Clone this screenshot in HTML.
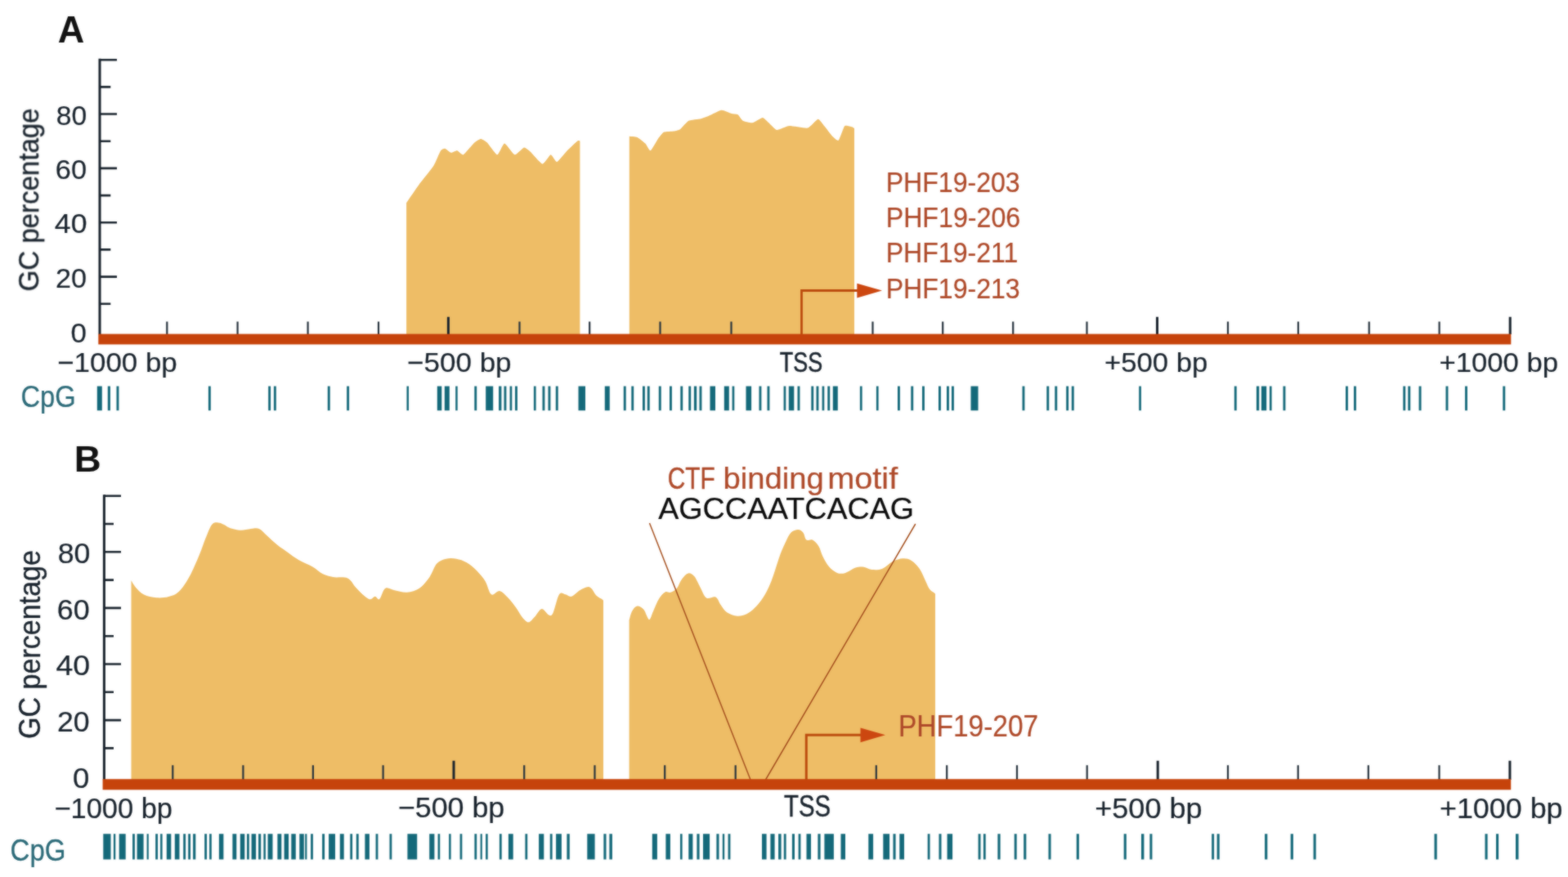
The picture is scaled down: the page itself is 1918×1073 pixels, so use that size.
<!DOCTYPE html>
<html lang="en"><head><meta charset="utf-8"><title>GC percentage and CpG sites around the TSS of PHF19 transcripts</title>
<style>
html,body{margin:0;padding:0;background:#fff;}
body{width:1918px;height:1073px;overflow:hidden;}
svg{display:block;}
text{font-family:"Liberation Sans",sans-serif;}
</style></head><body>
<svg width="1918" height="1073" viewBox="0 0 1918 1073" role="img" aria-label="GC percentage and CpG sites around the transcription start site">
<rect width="1918" height="1073" fill="#fff"/>
<defs><filter id="soft" x="0" y="0" width="1918" height="1073" filterUnits="userSpaceOnUse" color-interpolation-filters="sRGB"><feGaussianBlur stdDeviation="0.8" result="b"/><feComposite in="SourceGraphic" in2="b" operator="arithmetic" k1="0" k2="0.45" k3="0.55" k4="0"/></filter></defs>
<g filter="url(#soft)">
<g id="panelA">
<text x="70.7" y="51.6" font-size="45.5" font-weight="bold" fill="#111" textLength="32.5" lengthAdjust="spacingAndGlyphs">A</text>
<path fill="#EEBD66" d="M497.1 409L497.1 248.4C498.4 246.5 509.9 229.6 512.7 225.8C515.5 222 528.1 206.6 530.3 203.1C532.5 199.6 537.9 186.1 539.1 184.3C540.3 182.5 543.2 181.6 544.2 181.8C545.2 182 550.5 186.6 551.7 186.8C553 187 557.9 184.1 559.2 184.3C560.5 184.5 565 190.1 566.8 189.3C568.6 188.5 578.8 175.8 580.6 174.2C582.4 172.6 586.9 169.9 588.2 169.9C589.5 169.9 594 172.6 595.7 174.2C597.4 175.8 606.5 189.2 608.3 189.3C610.1 189.4 615.3 175.5 617.1 175.5C618.9 175.5 627.7 188.9 629.7 189.3C631.7 189.7 639.4 180.8 641 180.5C642.6 180.2 646.7 183.8 648.6 185.5C650.5 187.2 661.5 200.3 663.6 200.6C665.7 200.9 672.2 189.5 673.7 189.3C675.2 189.1 679.6 198.5 681.3 198.1C683 197.7 691.7 186.4 693.8 184.3C695.9 182.2 705.1 173.5 706.4 172.5C707.7 171.5 709.1 172.5 709.4 172.5L709.4 409Z"/>
<path fill="#EEBD66" d="M769.8 409L769.8 166.7C770.6 166.8 777.8 167.2 779.4 167.9C781 168.6 788 174.1 789.4 175.5C790.8 176.9 794.4 184.7 795.7 184.3C797 183.9 803.1 172.3 804.5 170.4C805.9 168.5 810.4 162.4 812.1 161.6C813.8 160.8 823 160.7 824.7 160.4C826.4 160.1 830.7 159 832.2 157.9C833.7 156.8 840.2 148.9 842.3 147.8C844.4 146.8 855.3 145.8 857.4 145.3C859.5 144.8 865.3 142.4 867.4 141.5C869.5 140.6 880.2 134.9 882.5 134.7C884.8 134.5 893.4 138.5 895.1 139C896.8 139.5 901.5 139.6 902.6 140.3C903.7 141 907.2 147 908.7 147.8C910.2 148.6 918.3 150.6 920.3 150.3C922.3 150 931.1 144 932.8 144C934.5 144 938.9 149 940.4 150.3C941.9 151.6 948.2 158.8 950.3 159.1C952.4 159.4 962.3 154.3 965.4 154.1C968.5 153.9 985.1 157.3 988 156.6C990.9 155.9 998.9 146 1000.6 145.8C1002.3 145.6 1006.7 152.4 1008.2 154.1C1009.7 155.8 1016.7 165.2 1018.2 166.7C1019.7 168.2 1024.5 172.8 1025.8 171.7C1027.1 170.6 1031.9 155.5 1033.3 154.1C1034.7 152.7 1041.1 155.1 1042.1 155.3C1043.1 155.5 1044.8 156.9 1045 157L1045 409Z"/>
<g stroke="#19232d" fill="none">
<path stroke-width="3" d="M122 71.8V409"/>
<path stroke-width="2.6" d="M122 73.2H143M122 106.4H135.3M122 139.5H143M122 172.7H135.3M122 205.9H143M122 239.1H135.3M122 272.2H143M122 305.4H135.3M122 338.6H143M122 371.7H135.3"/>
<path stroke-width="2.2" stroke="#26323d" d="M204.3 393.6V409M290.6 393.6V409M376.6 393.6V409M463 393.6V409M635.5 393.6V409M721.2 393.6V409M807.5 393.6V409M894.5 393.6V409M1067.5 393.6V409M1153.2 393.6V409M1239.2 393.6V409M1329.5 393.6V409M1502 393.6V409M1588 393.6V409M1674.7 393.6V409M1760.6 393.6V409"/>
<path stroke-width="3" d="M548.4 387.8V409M1415.5 387.8V409M1847.2 387.8V409"/>
</g>
<rect x="120.3" y="408.6" width="1728" height="12.8" fill="#C6430B"/>
<path fill="none" stroke="#BC4C0E" stroke-width="2.8" d="M980.5 409V355.5H1052"/>
<path fill="#CC4710" d="M1048.3 346.7L1079 355.6L1048.3 364.5Z"/>
<text x="68.8" y="152.5" font-size="33.6" stroke="#19232d" stroke-width="0.20" fill="#19232d" textLength="37.4" lengthAdjust="spacingAndGlyphs">80</text>
<text x="67.8" y="218.9" font-size="33.6" stroke="#19232d" stroke-width="0.20" fill="#19232d" textLength="38.2" lengthAdjust="spacingAndGlyphs">60</text>
<text x="66.8" y="285.2" font-size="33.6" stroke="#19232d" stroke-width="0.20" fill="#19232d" textLength="39.7" lengthAdjust="spacingAndGlyphs">40</text>
<text x="68" y="351.6" font-size="33.6" stroke="#19232d" stroke-width="0.20" fill="#19232d" textLength="38" lengthAdjust="spacingAndGlyphs">20</text>
<text x="86.5" y="418.8" font-size="33.6" stroke="#19232d" stroke-width="0.20" fill="#19232d" textLength="19.4" lengthAdjust="spacingAndGlyphs">0</text>
<text transform="translate(47.2 354.4) rotate(-90)" x="-2" y="0" font-size="35.2" stroke="#19232d" stroke-width="0.4" fill="#19232d" textLength="224" lengthAdjust="spacingAndGlyphs">GC percentage</text>
<text x="70.2" y="455.4" font-size="33.6" stroke="#19232d" stroke-width="0.20" fill="#19232d" textLength="146.6" lengthAdjust="spacingAndGlyphs">−1000 bp</text>
<text x="498" y="455.4" font-size="33.6" stroke="#19232d" stroke-width="0.20" fill="#19232d" textLength="127.6" lengthAdjust="spacingAndGlyphs">−500 bp</text>
<text x="953.8" y="455.4" font-size="35.2" stroke="#19232d" stroke-width="0.59" fill="#19232d" textLength="52.4" lengthAdjust="spacingAndGlyphs">TSS</text>
<text x="1351" y="455.4" font-size="33.6" stroke="#19232d" stroke-width="0.20" fill="#19232d" textLength="126.3" lengthAdjust="spacingAndGlyphs">+500 bp</text>
<text x="1760.5" y="455.4" font-size="33.6" stroke="#19232d" stroke-width="0.20" fill="#19232d" textLength="145.6" lengthAdjust="spacingAndGlyphs">+1000 bp</text>
<text x="25.4" y="497.8" font-size="36" stroke="#2B6A78" stroke-width="0.23" fill="#2B6A78" textLength="67.3" lengthAdjust="spacingAndGlyphs">CpG</text>
<text x="1083.7" y="235" font-size="35.2" stroke="#AE4929" stroke-width="0.22" fill="#AE4929" textLength="164" lengthAdjust="spacingAndGlyphs">PHF19-203</text>
<text x="1083.7" y="278" font-size="35.2" stroke="#AE4929" stroke-width="0.22" fill="#AE4929" textLength="164.5" lengthAdjust="spacingAndGlyphs">PHF19-206</text>
<text x="1083.7" y="321.3" font-size="35.2" stroke="#AE4929" stroke-width="0.22" fill="#AE4929" textLength="161.6" lengthAdjust="spacingAndGlyphs">PHF19-211</text>
<text x="1083.7" y="364.6" font-size="35.2" stroke="#AE4929" stroke-width="0.22" fill="#AE4929" textLength="164" lengthAdjust="spacingAndGlyphs">PHF19-213</text>
<path fill="#14697A" d="M118.8 472.4h6v29.8h-6zM131.8 472.4h3.1v29.8h-3.1zM142.5 472.4h2.9v29.8h-2.9zM254.9 472.4h2.9v29.8h-2.9zM328.2 472.4h2.9v29.8h-2.9zM334.9 472.4h2.9v29.8h-2.9zM400.8 472.4h2.9v29.8h-2.9zM424.2 472.4h2.9v29.8h-2.9zM497.5 472.4h2.5v29.8h-2.5zM534.8 472.4h5.5v29.8h-5.5zM543.8 472.4h6v29.8h-6zM557.2 472.4h2.5v29.8h-2.5zM580.3 472.4h2.9v29.8h-2.9zM594.2 472.4h9v29.8h-9zM610.1 472.4h3.3v29.8h-3.3zM616.5 472.4h2.9v29.8h-2.9zM623.6 472.4h2.7v29.8h-2.7zM630 472.4h2.9v29.8h-2.9zM652.9 472.4h2.7v29.8h-2.7zM663.5 472.4h2.9v29.8h-2.9zM670.5 472.4h2.9v29.8h-2.9zM679.8 472.4h2.9v29.8h-2.9zM707.5 472.4h8.5v29.8h-8.5zM739.8 472.4h6v29.8h-6zM762.8 472.4h2.9v29.8h-2.9zM772.3 472.4h2.9v29.8h-2.9zM786 472.4h2.9v29.8h-2.9zM791.8 472.4h2.9v29.8h-2.9zM805.8 472.4h2.9v29.8h-2.9zM819 472.4h2.9v29.8h-2.9zM832.3 472.4h2.9v29.8h-2.9zM842.3 472.4h2.9v29.8h-2.9zM848.9 472.4h3.3v29.8h-3.3zM855.5 472.4h2.9v29.8h-2.9zM868.5 472.4h6.5v29.8h-6.5zM885.8 472.4h6v29.8h-6zM895.6 472.4h2.7v29.8h-2.7zM912.5 472.4h6.6v29.8h-6.6zM928.5 472.4h2.9v29.8h-2.9zM938.5 472.4h2.9v29.8h-2.9zM958.6 472.4h2.7v29.8h-2.7zM964.8 472.4h6.5v29.8h-6.5zM975.5 472.4h2.9v29.8h-2.9zM992.3 472.4h2.9v29.8h-2.9zM998.5 472.4h2.9v29.8h-2.9zM1005.6 472.4h2.7v29.8h-2.7zM1012.3 472.4h2.9v29.8h-2.9zM1018.8 472.4h6v29.8h-6zM1051.9 472.4h2.7v29.8h-2.7zM1071.9 472.4h2.7v29.8h-2.7zM1098 472.4h2.9v29.8h-2.9zM1114.3 472.4h2.9v29.8h-2.9zM1128 472.4h2.9v29.8h-2.9zM1148 472.4h2.9v29.8h-2.9zM1158 472.4h2.9v29.8h-2.9zM1164 472.4h2.9v29.8h-2.9zM1187.5 472.4h9v29.8h-9zM1250.5 472.4h2.9v29.8h-2.9zM1280.3 472.4h2.9v29.8h-2.9zM1290.3 472.4h2.9v29.8h-2.9zM1304.2 472.4h2.9v29.8h-2.9zM1310.8 472.4h2.9v29.8h-2.9zM1393.2 472.4h2.7v29.8h-2.7zM1509.8 472.4h2.9v29.8h-2.9zM1536.9 472.4h3.3v29.8h-3.3zM1542.9 472.4h6.3v29.8h-6.3zM1552.9 472.4h2.7v29.8h-2.7zM1569.5 472.4h2.9v29.8h-2.9zM1646 472.4h2.9v29.8h-2.9zM1656 472.4h2.9v29.8h-2.9zM1716.3 472.4h2.9v29.8h-2.9zM1722.3 472.4h2.9v29.8h-2.9zM1735.6 472.4h2.9v29.8h-2.9zM1768.5 472.4h2.9v29.8h-2.9zM1792 472.4h2.9v29.8h-2.9zM1838.3 472.4h2.9v29.8h-2.9z"/>
</g>
<g id="panelB">
<text x="90.8" y="576.5" font-size="44.5" font-weight="bold" fill="#111" textLength="32.9" lengthAdjust="spacingAndGlyphs">B</text>
<path fill="#EEBD66" d="M160.5 954L160.5 709.9C161.4 711.4 163.4 715.8 166 718.7C168.6 721.6 171.9 725.4 176.1 727.5C180.3 729.6 186.2 730.9 191.2 731.3C196.2 731.7 201.7 731.3 206.3 730C210.9 728.7 214.7 727.7 218.9 723.7C223.1 719.7 227.2 713.7 231.4 706.1C235.6 698.5 240.6 686.4 244 678.4C247.4 670.4 249.1 664.4 251.6 658.3C254.1 652.2 256.6 645 259.1 641.9C261.6 638.8 264.2 639.4 266.7 639.4C269.2 639.4 271.7 640.8 274.2 641.9C276.7 643 278.4 645.1 281.8 646.2C285.2 647.3 290.1 648.6 294.3 648.7C298.5 648.8 303.1 647.3 306.9 647C310.7 646.7 313.6 645.5 317 647C320.4 648.5 323.2 652.4 327 655.8C330.8 659.1 335.4 663.8 339.6 667.1C343.8 670.5 348 673 352.2 675.9C356.4 678.8 359.8 681.8 364.8 684.7C369.8 687.6 377.4 690.6 382.4 693.5C387.4 696.4 390.8 700.2 395 702.3C399.2 704.4 402.5 705.2 407.5 706.1C412.5 707 420.6 705.3 425.2 707.4C429.8 709.5 431.8 715.2 435.2 718.7C438.6 722.2 442.4 726.3 445.3 728.7C448.2 731.1 450.5 733.1 452.8 733.3C455.1 733.5 457 729.8 458.9 729.8C460.8 729.8 462.1 734.7 464.2 733C466.3 731.3 468.3 721.5 471.4 719.7C474.5 717.9 478.4 721.4 482.8 722.3C487.2 723.1 492.9 725.2 497.9 724.8C502.9 724.4 508.4 722.9 513 719.7C517.6 716.6 522 710.9 525.5 705.9C529 700.9 530.9 693.3 534.3 689.6C537.7 685.9 541.7 684.8 545.7 683.8C549.7 682.8 554 683 558.2 683.8C562.4 684.5 566.6 685.9 570.8 688.3C575 690.7 579.6 694.6 583.4 698.4C587.2 702.2 590.6 706.1 593.5 710.9C596.4 715.7 598.1 725.3 601 727.3C603.9 729.3 607.8 722.4 611.1 723C614.5 723.6 617.8 727.7 621.1 731.1C624.5 734.5 628.3 739.6 631.2 743.6C634.1 747.6 636.2 752 638.7 755C641.2 758 643.8 761.3 646.3 761.3C648.8 761.3 651.1 757.7 653.8 755C656.5 752.3 659.7 745.3 662.6 744.9C665.5 744.5 669.1 751.7 671.4 752.5C673.7 753.3 674.4 754.1 676.5 749.9C678.6 745.7 681.5 731.1 684 727.3C686.5 723.5 689.1 726.9 691.6 727.3C694.1 727.7 696.2 730.6 699.1 729.8C702 729 705.9 724.3 709.2 722.3C712.6 720.3 716.7 718.2 719.2 718C721.7 717.8 722.6 719.2 724.3 721C726 722.8 727.2 726.5 729.3 728.6C731.4 730.7 735.4 732.5 736.9 733.6C738.4 734.7 737.8 734.8 738 735L738 954Z"/>
<path fill="#EEBD66" d="M769.6 954L769.6 758.7C770.2 756.8 771.6 750.2 773.3 747.4C775 744.5 777.3 741.9 779.6 741.6C781.9 741.3 785.1 743.1 787.2 745.5C789.3 747.9 791.1 754 792.4 756C793.7 758 793.8 759.1 795 757.5C796.2 755.9 797.8 750.4 799.7 746.2C801.6 742 804 735.9 806.3 732.3C808.6 728.7 811.2 725.8 813.5 724.5C815.8 723.2 817.9 725.5 820.3 724.8C822.7 724 825.5 722.7 827.8 720C830.1 717.3 831.8 711.5 834.1 708.4C836.5 705.3 839.3 701.9 841.9 701.4C844.5 700.9 847.2 702.6 849.6 705.5C852 708.4 854.1 714.2 856.5 718.5C858.9 722.8 860.9 729.5 864 731.5C867.1 733.5 872.5 729.1 875.4 730.5C878.3 731.9 879.3 736.9 881.6 740C883.9 743.1 885.8 747 889.2 749.3C892.6 751.6 897.8 753.4 901.8 753.7C905.8 754 909.6 752.9 913.2 751.2C916.8 749.5 920 747 923.4 743.6C926.8 740.2 930.1 736.6 933.5 731.1C936.9 725.6 940.1 719.3 943.5 710.9C946.9 702.5 950.7 688.8 953.6 680.8C956.5 672.8 958.8 667.9 961.1 663.1C963.4 658.3 964.9 654.3 967.4 651.8C969.9 649.3 973.7 648.1 976.2 648.1C978.7 648.1 980.8 649.7 982.5 651.8C984.2 653.9 984.4 659.1 986.3 660.6C988.2 662.1 991.3 659.3 993.8 660.6C996.3 661.9 999.3 664.8 1001.4 668.2C1003.5 671.6 1004.3 676.6 1006.4 680.8C1008.5 685 1011.1 689.9 1014 693.3C1016.9 696.6 1020.6 699.6 1024 700.9C1027.3 702.2 1030.3 701.9 1034.1 700.9C1037.9 699.9 1042.9 695.8 1046.7 694.6C1050.5 693.4 1053.4 693.4 1056.7 693.8C1060 694.2 1063 696.8 1066.8 697.1C1070.6 697.4 1075.2 697.5 1079.4 695.8C1083.6 694.1 1087.7 689.1 1091.9 687C1096.1 684.9 1100.7 683.5 1104.5 683.3C1108.3 683.1 1111.2 683.7 1114.6 685.8C1118 687.9 1121.8 691.6 1124.7 695.8C1127.6 700 1130.1 706.7 1132.2 710.9C1134.3 715.1 1135.3 718.5 1137.2 721C1139.1 723.5 1142.4 724.8 1143.5 726C1144.6 727.2 1143.9 727.7 1144 728L1144 954Z"/>
<path fill="none" stroke="#A5501F" stroke-width="1.5" d="M794.5 640L918 954M1119.8 641L936.5 954"/>
<g stroke="#19232d" fill="none">
<path stroke-width="3" d="M127.4 605.2V954"/>
<path stroke-width="2.6" d="M127.4 606.7H148M127.4 641H139M127.4 675.3H148M127.4 709.6H139M127.4 743.9H148M127.4 778.2H139M127.4 812.5H148M127.4 846.8H139M127.4 881.1H148M127.4 915.4H139"/>
<path stroke-width="2.2" stroke="#26323d" d="M211.3 936.3V954M297.4 936.3V954M382.9 936.3V954M468.6 936.3V954M641.2 936.3V954M727.5 936.3V954M813.2 936.3V954M899.7 936.3V954M1071.8 936.3V954M1158.2 936.3V954M1244 936.3V954M1329.7 936.3V954M1502 936.3V954M1587.8 936.3V954M1673.8 936.3V954M1760.5 936.3V954"/>
<path stroke-width="3" d="M555 930.8V954M1416.2 930.8V954M1846.9 930.8V954"/>
</g>
<rect x="125.6" y="953.2" width="1722.6" height="13.1" fill="#C6430B"/>
<path fill="none" stroke="#BC4C0E" stroke-width="3" d="M986.3 954V899.3H1056"/>
<path fill="#CC4710" d="M1052.5 890.4L1083 899.3L1052.5 908.2Z"/>
<text x="70.7" y="688.9" font-size="34.8" stroke="#19232d" stroke-width="0.20" fill="#19232d" textLength="39.7" lengthAdjust="spacingAndGlyphs">80</text>
<text x="69.7" y="757.5" font-size="34.8" stroke="#19232d" stroke-width="0.20" fill="#19232d" textLength="39.9" lengthAdjust="spacingAndGlyphs">60</text>
<text x="68.5" y="826.1" font-size="34.8" stroke="#19232d" stroke-width="0.20" fill="#19232d" textLength="41.7" lengthAdjust="spacingAndGlyphs">40</text>
<text x="70" y="894.7" font-size="34.8" stroke="#19232d" stroke-width="0.20" fill="#19232d" textLength="39.6" lengthAdjust="spacingAndGlyphs">20</text>
<text x="89" y="964.2" font-size="34.8" stroke="#19232d" stroke-width="0.20" fill="#19232d" textLength="20.3" lengthAdjust="spacingAndGlyphs">0</text>
<text transform="translate(48.6 902) rotate(-90)" x="-2" y="0" font-size="36.4" stroke="#19232d" stroke-width="0.4" fill="#19232d" textLength="231" lengthAdjust="spacingAndGlyphs">GC percentage</text>
<text x="66.4" y="1001" font-size="34.8" stroke="#19232d" stroke-width="0.20" fill="#19232d" textLength="144.6" lengthAdjust="spacingAndGlyphs">−1000 bp</text>
<text x="486.8" y="999.5" font-size="34.8" stroke="#19232d" stroke-width="0.20" fill="#19232d" textLength="130.5" lengthAdjust="spacingAndGlyphs">−500 bp</text>
<text x="959" y="999.4" font-size="36.4" stroke="#19232d" stroke-width="0.49" fill="#19232d" textLength="57" lengthAdjust="spacingAndGlyphs">TSS</text>
<text x="1339.3" y="1001" font-size="34.8" stroke="#19232d" stroke-width="0.20" fill="#19232d" textLength="131.2" lengthAdjust="spacingAndGlyphs">+500 bp</text>
<text x="1761" y="1000.6" font-size="34.8" stroke="#19232d" stroke-width="0.20" fill="#19232d" textLength="150.5" lengthAdjust="spacingAndGlyphs">+1000 bp</text>
<text x="12.6" y="1052.5" font-size="37.3" stroke="#2B6A78" stroke-width="0.29" fill="#2B6A78" textLength="67.9" lengthAdjust="spacingAndGlyphs">CpG</text>
<text x="1099" y="901" font-size="36.4" stroke="#AE4929" stroke-width="0.20" fill="#AE4929" textLength="171.1" lengthAdjust="spacingAndGlyphs">PHF19-207</text>
<text y="597.5" font-size="36.4" fill="#AE4929"><tspan x="816.8" textLength="57.9" lengthAdjust="spacingAndGlyphs" stroke="#AE4929" stroke-width="0.46">CTF</tspan> <tspan x="884.6" textLength="123.3" lengthAdjust="spacingAndGlyphs" stroke="#AE4929" stroke-width="0.20">binding</tspan> <tspan x="1012.2" textLength="86" lengthAdjust="spacingAndGlyphs" stroke="#AE4929" stroke-width="0.20">motif</tspan></text>
<text x="805.2" y="635" font-size="37.3" stroke="#0a0a0a" stroke-width="0.20" fill="#0a0a0a" textLength="312.9" lengthAdjust="spacingAndGlyphs">AGCCAATCACAG</text>
<path fill="#14697A" d="M126.3 1020.2h9.2v31.3h-9.2zM138.9 1020.2h2.4v31.3h-2.4zM145.7 1020.2h8v31.3h-8zM162.1 1020.2h2.8v31.3h-2.8zM167.6 1020.2h8v31.3h-8zM179.6 1020.2h2.2v31.3h-2.2zM190.2 1020.2h2.8v31.3h-2.8zM196.1 1020.2h2.5v31.3h-2.5zM203.8 1020.2h5.5v31.3h-5.5zM213.8 1020.2h5.7v31.3h-5.7zM224.2 1020.2h2.9v31.3h-2.9zM230.2 1020.2h2.8v31.3h-2.8zM236.1 1020.2h3.2v31.3h-3.2zM250.2 1020.2h2.8v31.3h-2.8zM256.1 1020.2h2.7v31.3h-2.7zM267.9 1020.2h5.5v31.3h-5.5zM284.4 1020.2h4.9v31.3h-4.9zM293.8 1020.2h5.5v31.3h-5.5zM302 1020.2h2.8v31.3h-2.8zM307.6 1020.2h5.5v31.3h-5.5zM316.1 1020.2h3.1v31.3h-3.1zM322.4 1020.2h2.5v31.3h-2.5zM327.6 1020.2h5.9v31.3h-5.9zM339.4 1020.2h4.9v31.3h-4.9zM347.6 1020.2h5.5v31.3h-5.5zM356.3 1020.2h5.5v31.3h-5.5zM366.3 1020.2h5.5v31.3h-5.5zM373.2 1020.2h2.2v31.3h-2.2zM380.1 1020.2h2.8v31.3h-2.8zM394.1 1020.2h3v31.3h-3zM402.1 1020.2h7.9v31.3h-7.9zM415.8 1020.2h4.9v31.3h-4.9zM428.3 1020.2h2.8v31.3h-2.8zM435.8 1020.2h2.9v31.3h-2.9zM446.4 1020.2h5.5v31.3h-5.5zM459.6 1020.2h2.8v31.3h-2.8zM476.5 1020.2h2.8v31.3h-2.8zM498.4 1020.2h11.8v31.3h-11.8zM525.2 1020.2h6.2v31.3h-6.2zM535.6 1020.2h2.6v31.3h-2.6zM549.1 1020.2h2.5v31.3h-2.5zM562.6 1020.2h2.7v31.3h-2.7zM580.4 1020.2h2.8v31.3h-2.8zM587.6 1020.2h2.2v31.3h-2.2zM594.1 1020.2h2.6v31.3h-2.6zM610.9 1020.2h2.8v31.3h-2.8zM621.9 1020.2h5.8v31.3h-5.8zM642.4 1020.2h2.8v31.3h-2.8zM659.1 1020.2h6.2v31.3h-6.2zM672.8 1020.2h2.8v31.3h-2.8zM680.1 1020.2h6.8v31.3h-6.8zM693.4 1020.2h3.4v31.3h-3.4zM718.3 1020.2h9.3v31.3h-9.3zM738.4 1020.2h3.1v31.3h-3.1zM745.4 1020.2h3.5v31.3h-3.5zM797.8 1020.2h6.1v31.3h-6.1zM814.4 1020.2h5.5v31.3h-5.5zM832 1020.2h2.6v31.3h-2.6zM842.3 1020.2h5.1v31.3h-5.1zM852.4 1020.2h3.2v31.3h-3.2zM860 1020.2h8.1v31.3h-8.1zM876.4 1020.2h3.1v31.3h-3.1zM883.8 1020.2h2.4v31.3h-2.4zM890.6 1020.2h2.8v31.3h-2.8zM932 1020.2h5.6v31.3h-5.6zM942.4 1020.2h5.2v31.3h-5.2zM952.1 1020.2h3.5v31.3h-3.5zM958.8 1020.2h2.8v31.3h-2.8zM968.9 1020.2h3.1v31.3h-3.1zM976.6 1020.2h2.8v31.3h-2.8zM986.5 1020.2h5.5v31.3h-5.5zM1000.4 1020.2h3.2v31.3h-3.2zM1008.4 1020.2h11.5v31.3h-11.5zM1028.5 1020.2h5.5v31.3h-5.5zM1062.3 1020.2h5.8v31.3h-5.8zM1080.3 1020.2h7.8v31.3h-7.8zM1092.5 1020.2h3.1v31.3h-3.1zM1100.3 1020.2h5.7v31.3h-5.7zM1134.7 1020.2h2.8v31.3h-2.8zM1148.5 1020.2h3v31.3h-3zM1158.6 1020.2h6.5v31.3h-6.5zM1196.6 1020.2h2.9v31.3h-2.9zM1202.9 1020.2h2.8v31.3h-2.8zM1220.4 1020.2h3.2v31.3h-3.2zM1240.7 1020.2h3v31.3h-3zM1252.2 1020.2h3.1v31.3h-3.1zM1282.5 1020.2h3v31.3h-3zM1316.8 1020.2h3.1v31.3h-3.1zM1374.7 1020.2h3.1v31.3h-3.1zM1396 1020.2h3.4v31.3h-3.4zM1406.4 1020.2h3v31.3h-3zM1482.2 1020.2h2.9v31.3h-2.9zM1488.6 1020.2h3.1v31.3h-3.1zM1547.1 1020.2h3.2v31.3h-3.2zM1578.7 1020.2h3.2v31.3h-3.2zM1606.6 1020.2h3.1v31.3h-3.1zM1754.5 1020.2h3.2v31.3h-3.2zM1816.5 1020.2h3.1v31.3h-3.1zM1830 1020.2h3.1v31.3h-3.1zM1854 1020.2h3.5v31.3h-3.5z"/>
</g>
</g>
</svg>
</body></html>
